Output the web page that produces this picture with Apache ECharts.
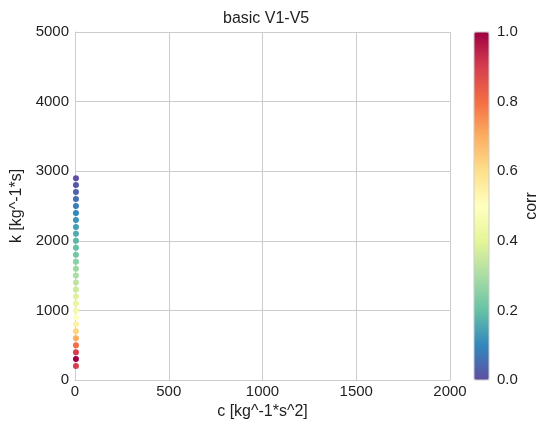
<!DOCTYPE html>
<html><head><meta charset="utf-8">
<script src="https://cdn.jsdelivr.net/npm/echarts@6/dist/echarts.min.js"></script>
<style>html,body{margin:0;padding:0;background:#fff}#c{width:539px;height:426px}</style>
</head><body><div id="c"></div>
<script>
const kValues = [200,300,400,500,600,700,800,900,1000,1100,1200,1300,1400,1500,1600,1700,1800,1900,2000,2100,2200,2300,2400,2500,2600,2700,2800,2900];
const cValues = [5,5,5,5,5,5,5,5,5,5,5,5,5,5,5,5,5,5,5,5,5,5,5,5,5,5,5,5];
const corrValues = [0.9,1.0,0.9,0.8,0.7,0.62,0.55,0.5,0.45,0.42,0.39,0.36,0.33,0.3,0.28,0.25,0.22,0.2,0.18,0.16,0.14,0.12,0.1,0.08,0.06,0.04,0.02,0.0];
const xTicks = [0,500,1000,1500,2000];
const yTicks = [0,1000,2000,3000,4000,5000];
const cbTicks = [0,0.2,0.4,0.6,0.8,1.0];
const spectralR = ['#5e4fa2','#3288bd','#66c2a5','#abdda4','#e6f598','#ffffbf','#fee08b','#fdae61','#f46d43','#d53e4f','#9e0142'];

const data = kValues.map((k,i)=>[cValues[i],k,corrValues[i]]);
const font = 'Liberation Sans, Arial, sans-serif';
const txt = '#1f1f1f';
const chart = echarts.init(document.getElementById('c'));
chart.setOption({
  animation:false,
  textStyle:{fontFamily:font},
  title:{text:'basic V1-V5',left:218,top:6,textStyle:{fontSize:16,fontWeight:'normal',color:txt,fontFamily:font}},
  grid:[
    {left:75,top:32,width:375,height:348,show:false},
    {left:474,top:32,width:15,height:348,show:true,borderColor:'#cccccc',borderWidth:1,backgroundColor:'transparent',z:5}
  ],
  xAxis:[
    {gridIndex:0,type:'value',min:xTicks[0],max:xTicks[xTicks.length-1],interval:500,
     name:'c [kg^-1*s^2]',nameLocation:'middle',nameGap:20,nameTextStyle:{fontSize:16,color:txt},
     axisLine:{show:true,lineStyle:{color:'#cccccc'}},axisTick:{show:false},
     axisLabel:{fontSize:15,color:txt,margin:4,formatter:v=>String(v)},
     splitLine:{show:true,lineStyle:{color:'#cccccc'}}},
    {gridIndex:1,type:'value',min:0,max:1,show:false}
  ],
  yAxis:[
    {gridIndex:0,type:'value',min:yTicks[0],max:yTicks[yTicks.length-1],interval:1000,
     name:'k [kg^-1*s]',nameLocation:'middle',nameGap:48,nameRotate:90,nameTextStyle:{fontSize:16,color:txt},
     axisLine:{show:true,lineStyle:{color:'#cccccc'}},axisTick:{show:false},
     axisLabel:{fontSize:15,color:txt,margin:6,formatter:v=>String(v)},
     splitLine:{show:true,lineStyle:{color:'#cccccc'}}},
    {gridIndex:1,type:'value',min:cbTicks[0],max:cbTicks[cbTicks.length-1],interval:0.2,position:'right',
     axisLine:{show:false},axisTick:{show:false},splitLine:{show:false},
     axisLabel:{fontSize:15,color:txt,margin:8,formatter:v=>v.toFixed(1)}}
  ],
  graphic:[{type:'text',x:532,y:206,rotation:Math.PI/2,style:{text:'corr',fontSize:16,fill:txt,fontFamily:font,align:'center',verticalAlign:'middle'}}],
  visualMap:{type:'continuous',min:0,max:1,dimension:2,seriesIndex:0,
    left:474,top:32,itemWidth:15,itemHeight:348,padding:0,text:null,showLabel:false,
    calculable:false,hoverLink:false,inRange:{color:spectralR}},
  series:[
    {type:'scatter',xAxisIndex:0,yAxisIndex:0,data:data,symbolSize:6,itemStyle:{opacity:1},z:3},
    {type:'scatter',xAxisIndex:1,yAxisIndex:1,data:[],silent:true}
  ]
});
</script></body></html>
